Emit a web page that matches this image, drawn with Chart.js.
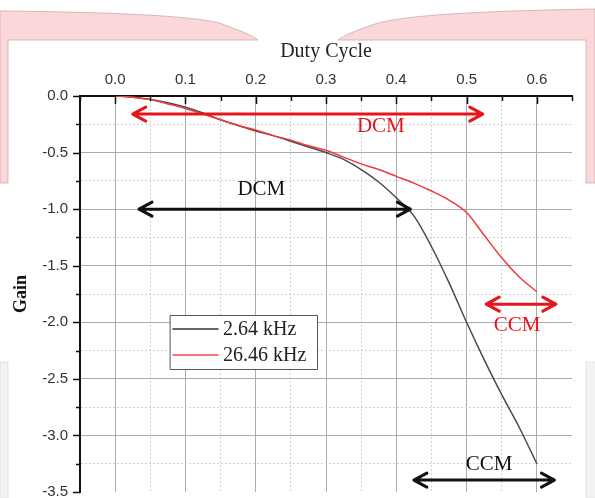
<!DOCTYPE html>
<html>
<head>
<meta charset="utf-8">
<script src="https://cdn.jsdelivr.net/npm/chart.js@4.4.1/dist/chart.umd.min.js"></script>
<style>
  html, body { margin: 0; padding: 0; background: #fff; }
  #wrap { position: relative; width: 595px; height: 498px; overflow: hidden; }
  #bg, #chart { position: absolute; left: 0; top: 0; }
</style>
</head>
<body>
<div id="wrap">
  <svg id="bg" width="595" height="498">
    <path d="M0 11 C110 12 200 16 222 24 C238 30 250 34 258 40 L8 40 L8 183 L0 183 Z" fill="#fcd7da" stroke="#c9a9ac" stroke-width="0.8"/>
    <path d="M595 9 C480 11 400 15 372 25 C355 31 345 35 338 40 L586 40 L586 183 L595 183 Z" fill="#fcd7da" stroke="#c9a9ac" stroke-width="0.8"/>
    <rect x="0" y="362" width="8" height="136" fill="#f3f3f3" stroke="#dddddd" stroke-width="0.8"/>
    <rect x="586" y="362" width="12" height="136" fill="#f3f3f3" stroke="#dddddd" stroke-width="0.8"/>
  </svg>
  <canvas id="chart" width="595" height="498"></canvas>
</div>
<script>
// duty cycle samples and measured gain for the two switching frequencies
const dutyCycle = [0, 0.025, 0.05, 0.075, 0.1, 0.125, 0.15, 0.175, 0.2, 0.225, 0.25, 0.275, 0.3,
  0.325, 0.35, 0.375, 0.4, 0.425, 0.45, 0.475, 0.5, 0.525, 0.55, 0.575, 0.6];
const gain264 = [0, -0.01, -0.03, -0.06, -0.10, -0.15, -0.21, -0.26, -0.31, -0.35, -0.40, -0.45, -0.50,
  -0.56, -0.65, -0.76, -0.90, -1.06, -1.33, -1.65, -2.0, -2.33, -2.64, -2.93, -3.25];
const gain2646 = [0, -0.01, -0.03, -0.07, -0.11, -0.16, -0.21, -0.26, -0.30, -0.35, -0.39, -0.44, -0.48,
  -0.54, -0.60, -0.65, -0.71, -0.77, -0.84, -0.92, -1.03, -1.23, -1.43, -1.60, -1.73];

const xTickLabels = ['0.0', '0.1', '0.2', '0.3', '0.4', '0.5', '0.6'];
const yTickLabels = ['0.0', '-0.5', '-1.0', '-1.5', '-2.0', '-2.5', '-3.0', '-3.5'];

const RED = '#e8141c';
const BLACK = '#111';

// mode arrows and labels, in data units
const arrows = [
  { x1: 0.025, x2: 0.523, y: -0.16, color: RED },
  { x1: 0.034, x2: 0.42, y: -1.0, color: BLACK },
  { x1: 0.528, x2: 0.627, y: -1.84, color: RED },
  { x1: 0.425, x2: 0.625, y: -3.395, color: BLACK }
];
const notes = [
  { text: 'DCM', x: 0.378, y: -0.27, color: RED },
  { text: 'DCM', x: 0.208, y: -0.825, color: BLACK },
  { text: 'CCM', x: 0.572, y: -2.03, color: RED },
  { text: 'CCM', x: 0.532, y: -3.26, color: BLACK }
];

function isMajor(v, step) {
  return Math.abs(v / step - Math.round(v / step)) < 1e-6;
}
function findLabel(list, v) {
  const hit = list.find(l => Math.abs(parseFloat(l) - v) < 1e-6);
  return hit === undefined ? '' : hit;
}

function drawArrow(ctx, x1, x2, y, color) {
  ctx.strokeStyle = color;
  ctx.lineWidth = 3;
  ctx.lineCap = 'round';
  ctx.lineJoin = 'round';
  ctx.beginPath();
  ctx.moveTo(x1, y); ctx.lineTo(x2, y);
  ctx.moveTo(x1 + 13, y - 7); ctx.lineTo(x1, y); ctx.lineTo(x1 + 13, y + 7);
  ctx.moveTo(x2 - 13, y - 7); ctx.lineTo(x2, y); ctx.lineTo(x2 - 13, y + 7);
  ctx.stroke();
}

const decor = {
  id: 'decor',
  afterDraw(chart) {
    const { ctx, chartArea: a, scales: { x, y } } = chart;
    ctx.save();

    // tick marks: inward on top axis, outward on left axis
    ctx.strokeStyle = '#111';
    ctx.lineWidth = 1.5;
    ctx.beginPath();
    x.ticks.forEach(t => {
      const px = Math.round(x.getPixelForValue(t.value)) + 0.5;
      const len = isMajor(t.value, 0.1) ? 8 : 5;
      ctx.moveTo(px, a.top); ctx.lineTo(px, a.top + len);
    });
    y.ticks.forEach(t => {
      const py = Math.round(y.getPixelForValue(t.value)) + 0.5;
      const len = isMajor(t.value, 0.5) ? 7 : 4;
      ctx.moveTo(a.left, py); ctx.lineTo(a.left - len, py);
    });
    ctx.stroke();

    arrows.forEach(r => drawArrow(ctx, x.getPixelForValue(r.x1), x.getPixelForValue(r.x2),
      y.getPixelForValue(r.y), r.color));

    ctx.font = '21px "Liberation Serif"';
    ctx.textAlign = 'center';
    ctx.textBaseline = 'middle';
    notes.forEach(n => {
      ctx.fillStyle = n.color;
      ctx.fillText(n.text, x.getPixelForValue(n.x), y.getPixelForValue(n.y));
    });

    // legend box
    const lx = a.left + 90, ly = a.top + 219;
    ctx.fillStyle = '#fff';
    ctx.fillRect(lx, ly, 147, 54);
    ctx.strokeStyle = '#555';
    ctx.lineWidth = 1;
    ctx.strokeRect(lx + 0.5, ly + 0.5, 147, 54);
    ctx.font = '20px "Liberation Serif"';
    ctx.textAlign = 'left';
    chart.data.datasets.forEach((ds, i) => {
      const ry = ly + 14 + i * 26;
      ctx.strokeStyle = ds.legendColor;
      ctx.lineWidth = 1.5;
      ctx.beginPath(); ctx.moveTo(lx + 3, ry); ctx.lineTo(lx + 48, ry); ctx.stroke();
      ctx.fillStyle = '#222';
      ctx.fillText(ds.label, lx + 53, ry + 1);
    });
    ctx.restore();
  }
};

new Chart(document.getElementById('chart'), {
  type: 'line',
  data: {
    datasets: [
      {
        label: '2.64 kHz',
        data: dutyCycle.map((d, i) => ({ x: d, y: gain264[i] })),
        borderColor: '#4a4a4a',
        legendColor: '#333',
        borderWidth: 1.5,
        pointRadius: 0,
        cubicInterpolationMode: 'monotone',
        order: 1
      },
      {
        label: '26.46 kHz',
        data: dutyCycle.map((d, i) => ({ x: d, y: gain2646[i] })),
        borderColor: '#ef3a3a',
        legendColor: '#f04848',
        borderWidth: 1.5,
        pointRadius: 0,
        cubicInterpolationMode: 'monotone',
        order: 0
      }
    ]
  },
  options: {
    responsive: false,
    animation: false,
    layout: { padding: { left: 0, top: 0, right: 23, bottom: 6 } },
    plugins: { legend: { display: false }, tooltip: { enabled: false } },
    scales: {
      x: {
        type: 'linear',
        position: 'top',
        min: -0.05,
        max: 0.65,
        afterFit: s => { s.height = 96; s.paddingLeft = 0; s.paddingRight = 0; },
        ticks: {
          stepSize: 0.05,
          autoSkip: false,
          maxRotation: 0,
          padding: 7,
          color: '#333',
          font: { family: 'Liberation Sans', size: 15 },
          callback: v => findLabel(xTickLabels, v)
        },
        grid: {
          drawTicks: false,
          lineWidth: 1,
          color: c => {
            const v = c.tick.value;
            if (v < -0.049 || v > 0.649) return 'rgba(0,0,0,0)';
            return isMajor(v, 0.1) ? '#ababab' : '#d2d2d2';
          }
        },
        border: {
          color: '#111',
          width: 2,
          dash: c => (c.type === 'tick' && !isMajor(c.tick.value, 0.1)) ? [2, 2] : []
        },
        title: {
          display: true,
          text: 'Duty Cycle',
          color: '#222',
          font: { family: 'Liberation Serif', size: 20 },
          padding: { top: 40, bottom: 0 }
        }
      },
      y: {
        min: -3.5,
        max: 0,
        afterFit: s => { s.width = 80; s.paddingTop = 0; s.paddingBottom = 0; },
        ticks: {
          stepSize: 0.25,
          autoSkip: false,
          padding: 12,
          color: '#333',
          font: { family: 'Liberation Sans', size: 15 },
          callback: v => findLabel(yTickLabels, v)
        },
        grid: {
          drawTicks: false,
          lineWidth: 1,
          color: c => {
            const v = c.tick.value;
            if (v > -0.01 || v < -3.49) return 'rgba(0,0,0,0)';
            return isMajor(v, 0.5) ? '#ababab' : '#d2d2d2';
          }
        },
        border: {
          color: '#111',
          width: 2,
          dash: c => (c.type === 'tick' && !isMajor(c.tick.value, 0.5)) ? [2, 2] : []
        },
        title: {
          display: true,
          text: 'Gain',
          color: '#111',
          font: { family: 'Liberation Serif', size: 18, weight: 'bold' },
          padding: { top: 11, bottom: 0 }
        }
      }
    }
  },
  plugins: [decor]
});
</script>
</body>
</html>
